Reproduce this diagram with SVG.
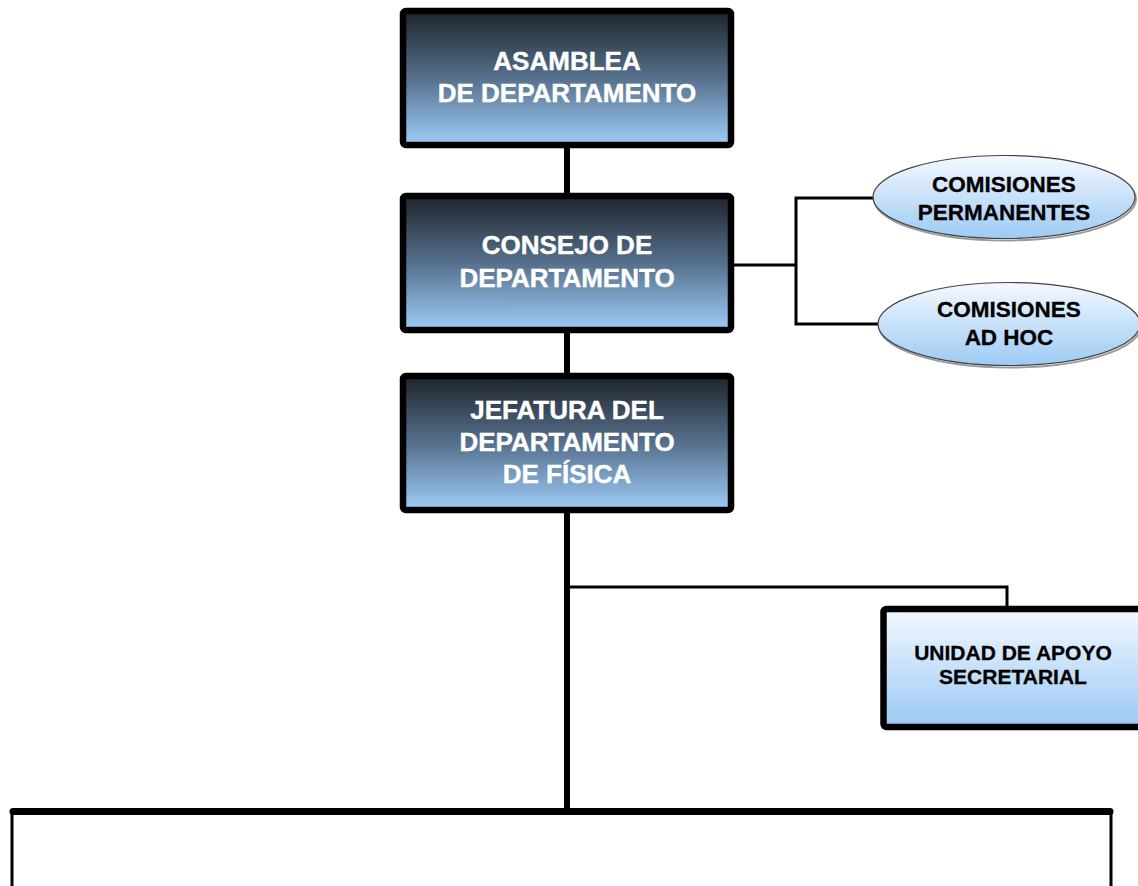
<svg xmlns="http://www.w3.org/2000/svg" width="1138" height="886" viewBox="0 0 1138 886">
<defs>
<linearGradient id="gDark" x1="0" y1="0" x2="0" y2="1">
<stop offset="0" stop-color="#1e242b"/>
<stop offset="0.5" stop-color="#56708c"/>
<stop offset="1" stop-color="#9ecdf9"/>
</linearGradient>
<linearGradient id="gLight" x1="0" y1="0" x2="0" y2="1">
<stop offset="0" stop-color="#f3f9ff"/>
<stop offset="1" stop-color="#9bc9f4"/>
</linearGradient>
<linearGradient id="gEll" x1="0" y1="0" x2="0" y2="1">
<stop offset="0" stop-color="#f4f9ff"/>
<stop offset="1" stop-color="#9dcaf4"/>
</linearGradient>
</defs>
<style>
.box{stroke:#000;stroke-width:6.5}
.dark{fill:url(#gDark)}
.light{fill:url(#gLight)}
.ell{fill:url(#gEll);stroke:#444;stroke-width:1.2}
.sh{fill:none;stroke:#9a9a9a;stroke-width:2}
.tw{font-family:"Liberation Sans",Arial,sans-serif;font-weight:bold;font-size:26px;fill:#fff;text-anchor:middle;stroke:#fff;stroke-width:0.4}
.tb{font-family:"Liberation Sans",Arial,sans-serif;font-weight:bold;font-size:22.5px;fill:#000;text-anchor:middle;stroke:#000;stroke-width:0.3}
.ts{font-size:21px}
.thick{fill:none;stroke:#000;stroke-width:6}
.thin{fill:none;stroke:#000;stroke-width:3}
</style>
<rect width="1138" height="886" fill="#fff"/>
<g id="connectors">
<line class="thick" x1="567" y1="145" x2="567" y2="196"/>
<line class="thick" x1="567" y1="330" x2="567" y2="376"/>
<line class="thick" x1="567" y1="510" x2="567" y2="810"/>
<polyline class="thin" points="731,265 796,265"/>
<polyline class="thin" points="874,198 796,198 796,324 879,324"/>
<polyline class="thin" points="567,587 1007,587 1007,607"/>
<line x1="13" y1="811.5" x2="1110" y2="811.5" stroke="#000" stroke-width="7" stroke-linecap="round"/>
<line class="thin" x1="12" y1="811" x2="12" y2="886" stroke-width="3.5"/>
<line class="thin" x1="1111" y1="811" x2="1111" y2="886" stroke-width="3.5"/>
</g>
<g id="asamblea">
<rect class="box dark" x="403" y="11" width="328" height="134" rx="3"/>
<text class="tw" x="567" y="70">ASAMBLEA</text>
<text class="tw" x="567" y="101.5">DE DEPARTAMENTO</text>
</g>
<g id="consejo">
<rect class="box dark" x="403" y="196" width="328" height="134" rx="3"/>
<text class="tw" x="567" y="254">CONSEJO DE</text>
<text class="tw" x="567" y="287">DEPARTAMENTO</text>
</g>
<g id="jefatura">
<rect class="box dark" x="403" y="376" width="328" height="134" rx="3"/>
<text class="tw" x="567" y="418.5">JEFATURA DEL</text>
<text class="tw" x="567" y="451">DEPARTAMENTO</text>
<text class="tw" x="567" y="483">DE FÍSICA</text>
</g>
<g id="comisiones-permanentes">
<ellipse class="sh" cx="1005" cy="199" rx="131" ry="41.5"/>
<ellipse class="ell" cx="1004" cy="197" rx="131" ry="41.5"/>
<text class="tb" x="1004" y="192">COMISIONES</text>
<text class="tb" x="1004" y="220">PERMANENTES</text>
</g>
<g id="comisiones-ad-hoc">
<ellipse class="sh" cx="1010" cy="326" rx="131" ry="41.5"/>
<ellipse class="ell" cx="1009" cy="324" rx="131" ry="41.5"/>
<text class="tb" x="1009" y="317">COMISIONES</text>
<text class="tb" x="1009" y="345">AD HOC</text>
</g>
<g id="unidad-apoyo">
<rect class="box light" x="883.5" y="609" width="262" height="118" rx="3"/>
<text class="tb ts" x="1013" y="660">UNIDAD DE APOYO</text>
<text class="tb ts" x="1013" y="684">SECRETARIAL</text>
</g>
</svg>
